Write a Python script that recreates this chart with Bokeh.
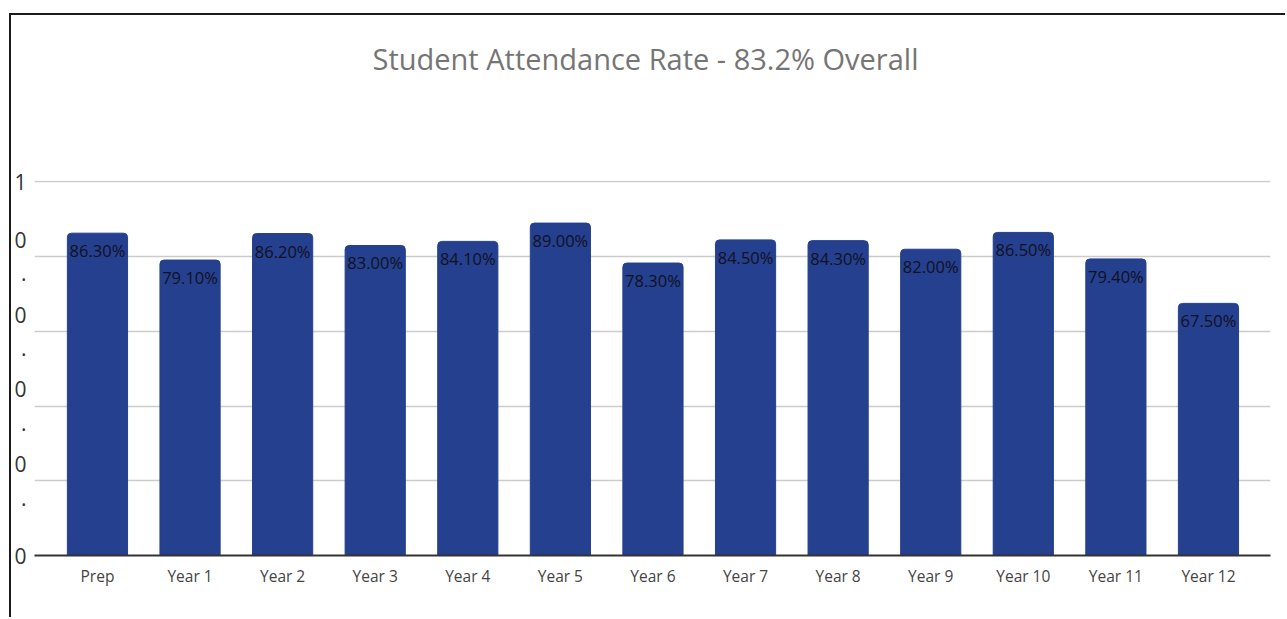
from bokeh.plotting import figure
from bokeh.models import ColumnDataSource, FixedTicker, Title
from bokeh.core.properties import value
from bokeh.embed import file_html
from bokeh.resources import INLINE

categories = ["Prep", "Year 1", "Year 2", "Year 3", "Year 4", "Year 5", "Year 6",
              "Year 7", "Year 8", "Year 9", "Year 10", "Year 11", "Year 12"]
attendance = [86.3, 79.1, 86.2, 83.0, 84.1, 89.0, 78.3, 84.5, 84.3, 82.0, 86.5, 79.4, 67.5]
y_ticks = [0, 0.2, 0.4, 0.6, 0.8, 1]
y_tick_labels = ["0", "0\n.", "0\n.", "0\n.", "0\n.", "1"]
title_text = "Student Attendance Rate - 83.2% Overall"

xs = list(range(len(categories)))
src = ColumnDataSource(dict(
    x=xs,
    top=[v / 100 for v in attendance],
    label=[f"{v:.2f}%" for v in attendance],
))

p = figure(width=1276, height=604, output_backend="svg", toolbar_location=None,
           x_range=(-0.68, len(categories) - 1 + 0.67), y_range=(0, 1.004),
           min_border_left=23, min_border_right=17, min_border_top=165, min_border_bottom=64,
           title=title_text)
p.margin = (13, 0, 0, 9)
p.styles = {"border-top": "2px solid #1a1a1a", "border-left": "2px solid #1a1a1a"}
p.outline_line_color = None

p.title.align = "left"
p.title.text_font = "Open Sans"
p.title.text_font_size = "29px"
p.title.text_font_style = "normal"
p.title.text_color = "#757575"
p.title.standoff = 0
p.title.offset = 338

# blank spacer between title and plot area
p.add_layout(Title(text=" ", text_font_size="1px", standoff=100), "above")

p.vbar(x="x", top="top", width=0.65, source=src, color="#24408E",
       border_radius=(4, 4, 0, 0))
p.text(x="x", y="top", text="label", source=src, text_align="center",
       text_baseline="top", y_offset=6, text_font=value("Open Sans"),
       text_font_size="16.5px", text_color="#111122")

p.xaxis.ticker = FixedTicker(ticks=xs)
p.xaxis.major_label_overrides = {i: c for i, c in enumerate(categories)}
p.xaxis.major_tick_line_color = None
p.xaxis.minor_tick_line_color = None
p.xaxis.axis_line_color = "#333333"
p.xaxis.axis_line_width = 2
p.xaxis.major_label_text_font = "Open Sans"
p.xaxis.major_label_text_font_size = "15.5px"
p.xaxis.major_label_text_color = "#444444"
p.xaxis.major_label_standoff = 3

p.yaxis.ticker = FixedTicker(ticks=y_ticks)
p.yaxis.major_label_overrides = dict(zip(y_ticks, y_tick_labels))
p.yaxis.major_tick_line_color = None
p.yaxis.minor_tick_line_color = None
p.yaxis.axis_line_color = None
p.yaxis.major_label_text_font = "Open Sans"
p.yaxis.major_label_text_font_size = "21px"
p.yaxis.major_label_text_color = "#333333"
p.yaxis.major_label_standoff = 2
p.yaxis.major_label_text_align = "left"

p.xgrid.grid_line_color = None
p.ygrid.grid_line_color = "#cccccc"
p.ygrid.grid_line_width = 1.5

open("out.html", "w").write(file_html(p, INLINE))
